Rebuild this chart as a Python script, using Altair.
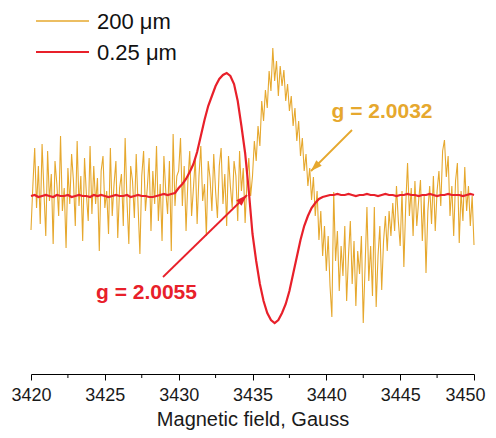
import altair as alt
import numpy as np
import pandas as pd

FONT = "Liberation Sans"
ORANGE = "#E6A82E"
RED = "#E8202A"

series_names = ["200 \u03bcm", "0.25 \u03bcm"]

x_start = 3420.0
orange_step = 0.125
red_step = 0.25

# 200 um sample (noisy), sampled every 0.125 G from 3420 to 3450
orange_vals = [
    # 3420.0 - 3429.875
    -34, 10, 48, -12, 30, -28, 52, 5, -40, 45, -5, 22, -48, 35, 12, -20, 60, -15, 8, -52,
    28, -8, 42, 15, -30, 55, -10, 20, -45, 38, 2, -25, 50, -18, 30, -8, 18, -55, 25, 40,
    -12, 5, -38, 48, -20, 12, 35, -42, 8, 22, -30, 58, -5, -48, 30, 15, -22, 42, -10, -58,
    20, 45, -15, 8, 38, -35, 25, -8, 50, -25, 12, -45, 40, 5, -18, 35, -55, 62, -10, 20,
    # 3430.0 - 3434.875
    25, 58, -10, 30, -35, 15, 45, -20, 8, 38, -28, 20, 50, -5, 12, -40, 35, 18, -15, 42,
    5, -22, 30, 48, -8, 22, -30, 40, 10, -12, 35, 20, -25, 45, 5, 28, -27, 15, 38, 0,
    # 3435.0 - 3438.875
    20, 55, 35, 70, 50, 95, 75, 106, 88, 125, 105, 148, 115, 135, 100, 130,
    110, 126, 95, 112, 85, 100, 70, 88, 55, 75, 40, 58, 25, 42, 10, 28,
    # 3439.0 - 3443.875
    -4, 19, -20, 5, -44, -15, -60, -30, -75, -40, -90, -121, 4, -65, -35, -95,
    -50, -80, -30, -105, -60, -25, -88, -45, -110, -55, -78, -40, -127, -70, -11, -85,
    -50, -100, -11, -111, -60, -30, -94, -45,
    # 3444.0 - 3450.0
    -20, -55, -15, -40, -7, -35, 10, -25, -50, 5, -71, -10, 33, -20, 8, -40,
    15, -30, -5, 16, -45, 0, -77, -15, 10, -28, 20, -35, 5, 25, -10, 45,
    56, 19, 40, -20, 10, -40, 15, 33, -47, 5, -25, 29, -15, 10, -30, 0, -49,
]

# 0.25 um sample (smooth derivative line), sampled every 0.25 G
red_vals = [
    # 3420.0 - 3429.75
    0, 1, -1, 0, 1, 0, -1, 1, 0, 0, 1, -1, 0, 1, 0, 0, -1, 1, 0, 1,
    0, -1, 0, 1, 0, 0, 1, -1, 0, 1, 0, 0, -1, -1, 0, 1, 2, 1, 2, 3,
    # 3430.0 - 3439.75
    8, 12, 17, 24, 32, 44, 60, 76, 90, 100,
    110, 117, 121, 123, 120, 112, 95, 70, 43, 5,
    -38, -65, -88, -105, -117, -124, -127, -124, -117, -108,
    -95, -78, -61, -44, -30, -20, -12, -7, -3, -1,
    # 3440.0 - 3450.0
    0, 1, 1, 2, 1, 1, 2, 1, 0, 1, 1, 2, 1, 1, 0, 1, 2, 1, 1, 0,
    1, 1, 2, 1, 1, 0, 1, 1, 2, 1, 0, 1, 1, 2, 1, 1, 1, 0, 1, 2, 1,
]

major_ticks = [3420, 3425, 3430, 3435, 3440, 3445, 3450]
minor_ticks = [3422.5, 3427.5, 3432.5, 3437.5, 3442.5, 3447.5]

# annotations: label text, position, arrow start and tip (data units)
ann_text = ["g = 2.0032", "g = 2.0055"]
ann_x = [3443.77, 3427.82]
ann_y = [78.5, -103]
arrow_x = [3441.74, 3428.94]
arrow_y = [66, -81]
arrow_x2 = [3438.96, 3434.63]
arrow_y2 = [25, 1]
arrow_angle = [225, 45.7]

orange_df = pd.DataFrame({
    "B": x_start + orange_step * np.arange(len(orange_vals)),
    "I": orange_vals,
    "series": series_names[0],
})
red_df = pd.DataFrame({
    "B": x_start + red_step * np.arange(len(red_vals)),
    "I": red_vals,
    "series": series_names[1],
})

xscale = alt.Scale(domain=[3420, 3450], nice=False, zero=False)
yscale = alt.Scale(domain=[-178, 188], nice=False, zero=False)
cscale = alt.Scale(domain=series_names, range=[ORANGE, RED])

xaxis = alt.Axis(
    values=major_ticks, format="d", grid=False,
    tickSize=6, tickColor="#000", tickWidth=1,
    domainColor="#000", domainWidth=1,
    labelFont=FONT, labelFontSize=18, labelColor="#1a1a1a", labelPadding=6,
    labelFlush=False,
    labelOffset={"condition": {"test": "datum.value >= 3450", "value": -9}, "value": 0},
    title="Magnetic field, Gauss", titleFont=FONT, titleFontSize=20,
    titleFontWeight="normal", titleColor="#1a1a1a", titlePadding=5,
)

orange_line = alt.Chart(orange_df).mark_line(strokeWidth=1.1).encode(
    x=alt.X("B:Q", scale=xscale, axis=xaxis),
    y=alt.Y("I:Q", scale=yscale, axis=None),
    color=alt.Color("series:N", scale=cscale, legend=None),
)
red_line = alt.Chart(red_df).mark_line(strokeWidth=2.2).encode(
    x=alt.X("B:Q", scale=xscale),
    y=alt.Y("I:Q", scale=yscale),
    color=alt.Color("series:N", scale=cscale, legend=None),
)

minor = alt.Chart(pd.DataFrame({"B": minor_ticks})).mark_rule(
    color="#000", strokeWidth=1
).encode(x=alt.X("B:Q", scale=xscale), y=alt.value(366), y2=alt.value(370))

# legend (drawn as marks)
legend_df = pd.DataFrame({"series": series_names, "ly": [13, 44], "lw": [1.3, 2.2]})
legend_lines = alt.Chart(legend_df).mark_rule().encode(
    x=alt.value(5), x2=alt.value(58),
    y=alt.Y("ly:Q", scale=None),
    color=alt.Color("series:N", scale=cscale, legend=None),
    strokeWidth=alt.StrokeWidth("lw:Q", scale=None),
)
legend_text = alt.Chart(legend_df).mark_text(
    font=FONT, fontSize=22, align="left", baseline="middle", color="#111", dy=1
).encode(
    x=alt.value(66), y=alt.Y("ly:Q", scale=None), text="series:N",
)

ann_df = pd.DataFrame({
    "t": ann_text, "x": ann_x, "y": ann_y,
    "ax": arrow_x, "ay": arrow_y, "ax2": arrow_x2, "ay2": arrow_y2,
    "ang": arrow_angle, "c": [ORANGE, RED],
})

arrow_lines = alt.Chart(ann_df).mark_rule(strokeWidth=1.8).encode(
    x=alt.X("ax:Q", scale=xscale), y=alt.Y("ay:Q", scale=yscale),
    x2="ax2:Q", y2="ay2:Q",
    color=alt.Color("c:N", scale=None),
)
arrow_heads = alt.Chart(ann_df).mark_point(
    shape="M0,0L-0.8,2.4L0.8,2.4Z", filled=True, size=90, opacity=1, strokeWidth=0
).encode(
    x=alt.X("ax2:Q", scale=xscale), y=alt.Y("ay2:Q", scale=yscale),
    angle=alt.Angle("ang:Q", scale=None),
    color=alt.Color("c:N", scale=None),
)
labels = alt.Chart(ann_df).mark_text(
    font=FONT, fontSize=21, fontWeight="bold", align="center", baseline="alphabetic"
).encode(
    x=alt.X("x:Q", scale=xscale), y=alt.Y("y:Q", scale=yscale),
    text="t:N",
    color=alt.Color("c:N", scale=None),
)

chart = alt.layer(
    orange_line, red_line, minor, arrow_lines, arrow_heads, labels,
    legend_lines, legend_text,
).properties(
    width=443, height=366,
    padding={"left": 23, "top": 0, "right": 14, "bottom": 56},
    autosize="none",
).configure_view(stroke=None)

chart.save("out.html", embed_options={"renderer": "svg", "actions": False})
